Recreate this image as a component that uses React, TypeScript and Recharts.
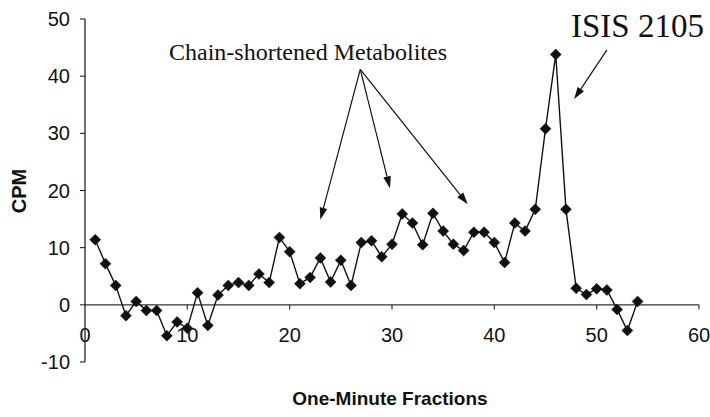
import React from "react";
import { LineChart, Line, XAxis, YAxis, ReferenceLine } from "recharts";

// Fraction number (one-minute fractions) and measured counts per minute
const fractions = [
  1, 2, 3, 4, 5, 6, 7, 8, 9, 10, 11, 12, 13, 14, 15, 16, 17, 18, 19, 20,
  21, 22, 23, 24, 25, 26, 27, 28, 29, 30, 31, 32, 33, 34, 35, 36, 37, 38, 39, 40,
  41, 42, 43, 44, 45, 46, 47, 48, 49, 50, 51, 52, 53, 54,
];
const cpm = [
  11.4, 7.2, 3.4, -1.9, 0.6, -1.0, -1.0, -5.4, -3.0, -4.1, 2.1, -3.6, 1.7, 3.4, 3.9, 3.4, 5.4, 3.9, 11.8, 9.3,
  3.7, 4.8, 8.2, 4.0, 7.8, 3.4, 10.9, 11.2, 8.4, 10.6, 15.9, 14.3, 10.5, 16.0, 12.9, 10.6, 9.5, 12.7, 12.7, 10.9,
  7.4, 14.3, 12.9, 16.7, 30.8, 43.8, 16.7, 2.9, 1.8, 2.8, 2.6, -0.8, -4.5, 0.6,
];

const xTicks = [0, 10, 20, 30, 40, 50, 60];
const yTicks = [-10, 0, 10, 20, 30, 40, 50];

// Annotation arrows in data coordinates: [from, to]
const metaboliteArrows = [
  { from: { x: 26.9, y: 41.2 }, to: { x: 23.0, y: 14.9 } },
  { from: { x: 26.9, y: 41.2 }, to: { x: 29.8, y: 20.4 } },
  { from: { x: 26.9, y: 41.2 }, to: { x: 37.4, y: 17.6 } },
];
const parentArrow = { from: { x: 51.0, y: 44.6 }, to: { x: 47.8, y: 36.0 } };

const data = fractions.map((f, i) => ({ fraction: f, cpm: cpm[i] }));

const SANS = "'Liberation Sans', Arial, sans-serif";
const SERIF = "'Liberation Serif', 'Times New Roman', serif";
const INK = "#111";

const Diamond = (props: any) => {
  const { cx, cy } = props;
  if (cx == null || cy == null) return null;
  const r = 5.5;
  return (
    <polygon
      points={`${cx},${cy - r} ${cx + r},${cy} ${cx},${cy + r} ${cx - r},${cy}`}
      fill={INK}
      stroke={INK}
      strokeWidth={0.5}
    />
  );
};

const ArrowShape = (props: any) => {
  const { x1, y1, x2, y2 } = props;
  if ([x1, y1, x2, y2].some((v) => v == null || Number.isNaN(v))) return null;
  const dx = x2 - x1;
  const dy = y2 - y1;
  const len = Math.sqrt(dx * dx + dy * dy) || 1;
  const ux = dx / len;
  const uy = dy / len;
  const headLen = 12;
  const headHalf = 3.8;
  const bx = x2 - ux * headLen;
  const by = y2 - uy * headLen;
  const px = -uy * headHalf;
  const py = ux * headHalf;
  return (
    <g>
      <line x1={x1} y1={y1} x2={bx} y2={by} stroke={INK} strokeWidth={1.2} />
      <polygon
        points={`${x2},${y2} ${bx + px},${by + py} ${bx - px},${by - py}`}
        fill={INK}
      />
    </g>
  );
};

const XTick = (props: any) => {
  const { x, y, payload } = props;
  return (
    <text
      x={x}
      y={y - 27}
      textAnchor="middle"
      dominantBaseline="central"
      fontFamily={SANS}
      fontSize={20}
      fill={INK}
    >
      {payload.value}
    </text>
  );
};

export default function App() {
  return (
    <div
      style={{
        position: "absolute",
        left: 0,
        top: 0,
        width: 710,
        height: 417,
        background: "#fff",
      }}
    >
      <LineChart
        width={710}
        height={417}
        data={data}
        margin={{ top: 19, right: 11, left: 0, bottom: 0 }}
      >
        <XAxis
          type="number"
          dataKey="fraction"
          domain={[0, 60]}
          ticks={xTicks}
          axisLine={false}
          tickLine={false}
          tickSize={0}
          tickMargin={0}
          height={55}
          tick={<XTick />}
          interval={0}
        />
        <YAxis
          type="number"
          domain={[-10, 50]}
          ticks={yTicks}
          width={85}
          interval={0}
          axisLine={{ stroke: INK, strokeWidth: 1.2 }}
          tickLine={{ stroke: INK, strokeWidth: 1 }}
          tickSize={5}
          tickMargin={10}
          tick={{ fontFamily: SANS, fontSize: 20, fill: INK }}
        />
        <ReferenceLine y={0} stroke="#333" strokeWidth={1.1} />
        {xTicks.slice(1).map((t) => (
          <ReferenceLine
            key={`xt-${t}`}
            segment={[
              { x: t, y: 0 },
              { x: t, y: -0.8 },
            ]}
            stroke="#333"
            strokeWidth={1.2}
            ifOverflow="visible"
          />
        ))}
        <Line
          type="linear"
          dataKey="cpm"
          stroke={INK}
          strokeWidth={1.4}
          dot={<Diamond />}
          activeDot={false}
          isAnimationActive={false}
        />
        {metaboliteArrows.map((a, i) => (
          <ReferenceLine
            key={`ma-${i}`}
            segment={[a.from, a.to]}
            ifOverflow="visible"
            shape={<ArrowShape />}
          />
        ))}
        <ReferenceLine
          segment={[parentArrow.from, parentArrow.to]}
          ifOverflow="visible"
          shape={<ArrowShape />}
        />
      </LineChart>
      <svg
        width={710}
        height={417}
        style={{ position: "absolute", left: 0, top: 0, pointerEvents: "none" }}
      >
        <text
          x={308}
          y={60}
          textAnchor="middle"
          fontFamily={SERIF}
          fontSize={24}
          fill={INK}
        >
          Chain-shortened Metabolites
        </text>
        <text x={571} y={37} fontFamily={SERIF} fontSize={33} fill={INK}>
          ISIS 2105
        </text>
        <text
          x={390}
          y={405}
          textAnchor="middle"
          fontFamily={SANS}
          fontWeight="bold"
          fontSize={19}
          fill={INK}
        >
          One-Minute Fractions
        </text>
        <text
          transform="translate(26,191) rotate(-90)"
          textAnchor="middle"
          fontFamily={SANS}
          fontWeight="bold"
          fontSize={20}
          fill={INK}
        >
          CPM
        </text>
      </svg>
    </div>
  );
}
